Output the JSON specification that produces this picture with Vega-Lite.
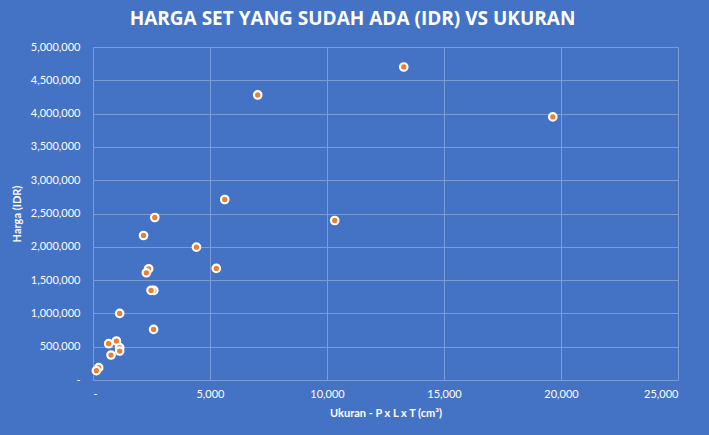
{
  "$schema": "https://vega.github.io/schema/vega-lite/v6.json",
  "autosize": {"type": "none"},
  "padding": {"left": 93, "top": 47, "right": 31, "bottom": 55},
  "width": 585,
  "height": 333,
  "background": "#4472C4",
  "title": {
    "text": "HARGA SET YANG SUDAH ADA (IDR) VS UKURAN",
    "font": "Open Sans",
    "fontSize": 19,
    "fontWeight": "bold",
    "color": "#FFFFFF",
    "anchor": "middle",
    "frame": "group",
    "dx": -33,
    "offset": 12
  },
  "data": {
    "values": [
      {"ukuran": 13280, "harga": 4700000},
      {"ukuran": 19650, "harga": 3950000},
      {"ukuran": 7040, "harga": 4280000},
      {"ukuran": 5630, "harga": 2710000},
      {"ukuran": 10330, "harga": 2395000},
      {"ukuran": 2640, "harga": 2440000},
      {"ukuran": 2160, "harga": 2170000},
      {"ukuran": 4420, "harga": 1995000},
      {"ukuran": 2380, "harga": 1670000},
      {"ukuran": 2280, "harga": 1610000},
      {"ukuran": 5270, "harga": 1675000},
      {"ukuran": 2600, "harga": 1345000},
      {"ukuran": 2480, "harga": 1345000},
      {"ukuran": 1140, "harga": 1000000},
      {"ukuran": 2590, "harga": 760000},
      {"ukuran": 670, "harga": 545000},
      {"ukuran": 1000, "harga": 585000},
      {"ukuran": 1140, "harga": 485000},
      {"ukuran": 1140, "harga": 435000},
      {"ukuran": 770, "harga": 375000},
      {"ukuran": 245, "harga": 185000},
      {"ukuran": 145, "harga": 140000}
    ]
  },
  "mark": {
    "type": "point",
    "filled": true,
    "shape": "circle",
    "size": 56,
    "fill": "#ED7D31",
    "stroke": "#FFFFFF",
    "strokeWidth": 2.2,
    "opacity": 1
  },
  "encoding": {
    "x": {
      "field": "ukuran",
      "type": "quantitative",
      "scale": {"domain": [0, 25000], "nice": false, "zero": true},
      "axis": {
        "title": "Ukuran - P x L x T (cm³)",
        "values": [0, 5000, 10000, 15000, 20000, 25000],
        "labelExpr": "datum.value == 0 ? '-' : format(datum.value, ',')",
        "labelPadding": 8,
        "titlePadding": 8
      }
    },
    "y": {
      "field": "harga",
      "type": "quantitative",
      "scale": {"domain": [0, 5000000], "nice": false},
      "axis": {
        "title": "Harga (IDR)",
        "values": [0, 500000, 1000000, 1500000, 2000000, 2500000, 3000000, 3500000, 4000000, 4500000, 5000000],
        "labelExpr": "datum.value == 0 ? '-' : format(datum.value, ',')",
        "labelPadding": 13,
        "titlePadding": 8
      }
    }
  },
  "config": {
    "view": {"stroke": null},
    "axis": {
      "domain": false,
      "ticks": false,
      "grid": true,
      "gridColor": "#7C9CD6",
      "gridWidth": 1,
      "gridOpacity": 1,
      "labelColor": "#FFFFFF",
      "labelFont": "Lato",
      "labelFontSize": 11,
      "titleColor": "#FFFFFF",
      "titleFont": "Lato",
      "titleFontSize": 11,
      "titleFontWeight": "bold"
    }
  }
}
